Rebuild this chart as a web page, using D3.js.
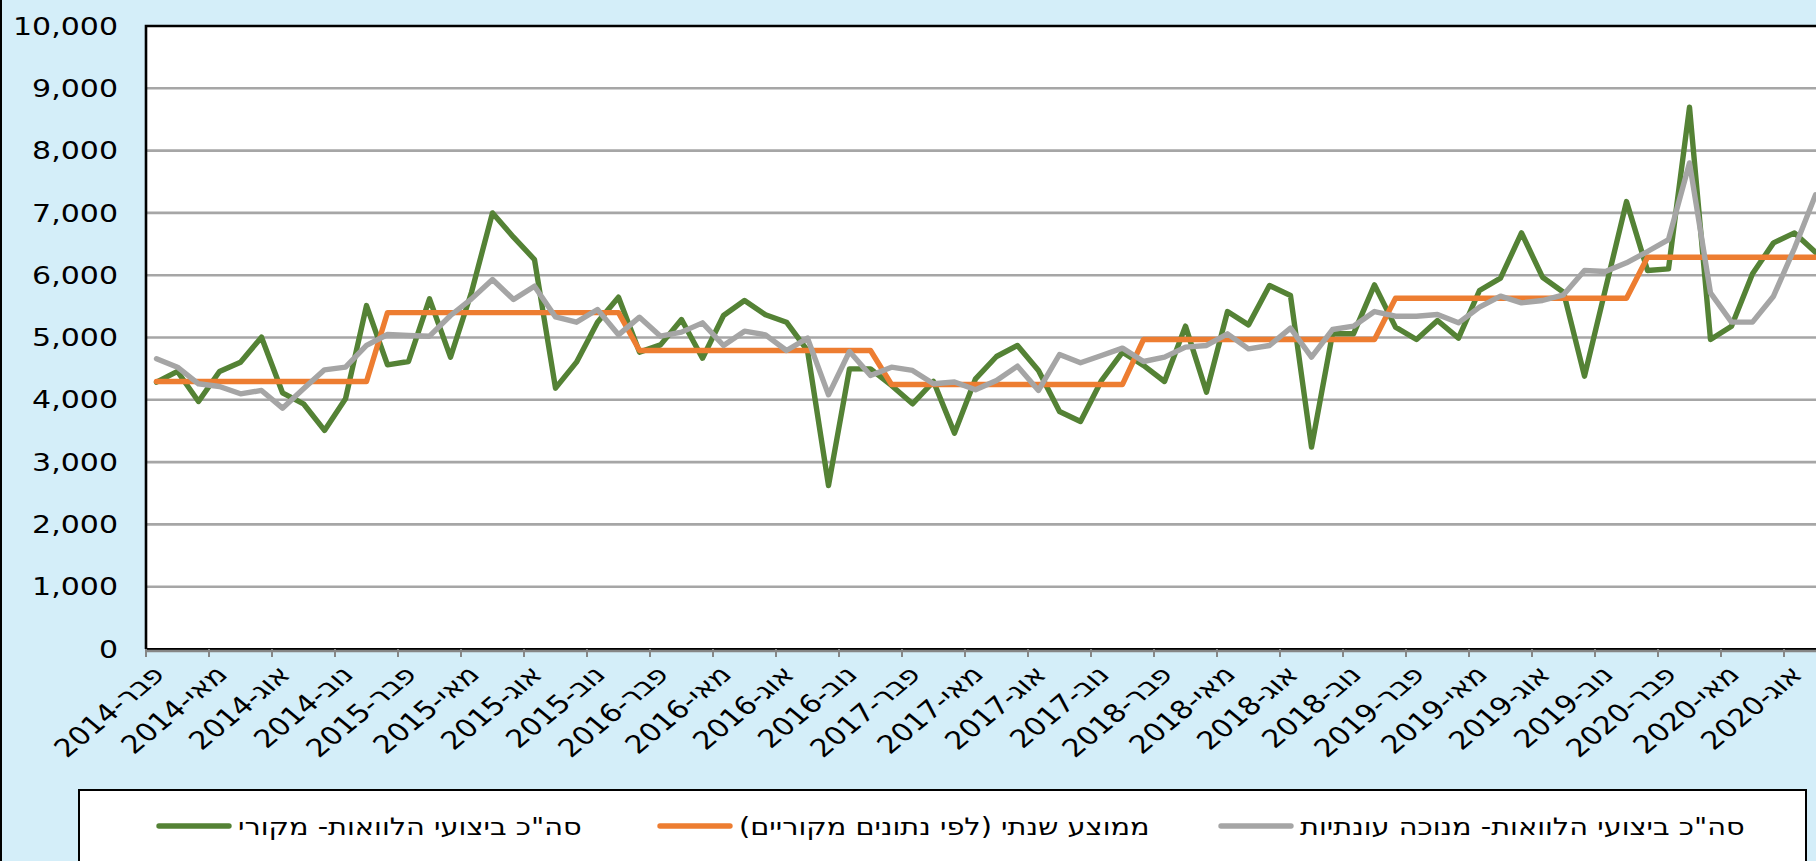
<!DOCTYPE html>
<html>
<head>
<meta charset="utf-8">
<script src="https://cdn.jsdelivr.net/npm/d3@7"></script>
<style>
html, body { margin: 0; padding: 0; overflow: hidden; background: #d4eef9; }
svg { display: block; }
text { font-family: "DejaVu Sans", Verdana, sans-serif; fill: #000; }
</style>
</head>
<body>
<svg id="chart"></svg>
<script>
// monthly categories, Feb 2014 onward
var monthNames = ['ינו', 'פבר', 'מרץ', 'אפר', 'מאי', 'יונ', 'יול', 'אוג', 'ספט', 'אוק', 'נוב', 'דצמ'];
var categories = [];
for (var k = 0; k < 80; k++) {
    var m = (1 + k) % 12, yr = 2014 + Math.floor((1 + k) / 12);
    categories.push({ label: monthNames[m] + '-' + yr, year: yr });
}

// סה"כ ביצועי הלוואות- מקורי
var original = [
    4283, 4455, 3973, 4455, 4604, 5005, 4112, 3936, 3508, 4016, 5513,
    4561, 4615, 5620, 4684, 5727, 7000, 6610, 6251, 4187, 4604, 5246, 5647,
    4765, 4882, 5289, 4668, 5353, 5594, 5364, 5246, 4791, 2625, 4497, 4497,
    4230, 3936, 4294, 3465, 4337, 4695, 4872, 4471, 3813, 3652, 4310, 4765,
    4551, 4294, 5182, 4123, 5417, 5203, 5834, 5674, 3240, 5059, 5059, 5845,
    5166, 4968, 5273, 4989, 5754, 5952, 6679, 5968, 5727, 4380, 5781, 7182,
    6075, 6102, 8695, 4968, 5182, 6022, 6519, 6679, 6369
];

// סה"כ ביצועי הלוואות- מנוכה עונתיות
var adjusted = [
    4658, 4524, 4257, 4214, 4096, 4150, 3866, 4176, 4481, 4524, 4872,
    5048, 5032, 5021, 5353, 5620, 5931, 5610, 5824, 5330, 5246, 5449, 5043,
    5326, 5021, 5086, 5235, 4872, 5102, 5043, 4791, 4989, 4080, 4775, 4390,
    4524, 4471, 4257, 4285, 4160, 4310, 4540, 4150, 4727, 4594, 4711, 4829,
    4615, 4684, 4845, 4872, 5059, 4818, 4872, 5150, 4684, 5128, 5182, 5417,
    5342, 5342, 5369, 5235, 5487, 5663, 5556, 5594, 5685, 6075, 6059, 6198,
    6380, 6572, 7802, 5717, 5246, 5246, 5663, 6433, 7289
];

// ממוצע שנתי (לפי נתונים מקוריים)
var avgYears = [2014, 2015, 2016, 2017, 2018, 2019, 2020];
var avgValues = [4294, 5400, 4791, 4246, 4968, 5631, 6289];

var yTicks = [0, 1000, 2000, 3000, 4000, 5000, 6000, 7000, 8000, 9000, 10000];

var seriesNames = ['סה"כ ביצועי הלוואות- מקורי', 'ממוצע שנתי (לפי נתונים מקוריים)', 'סה"כ ביצועי הלוואות- מנוכה עונתיות'];
var seriesColors = ['#548235', '#ed7d31', '#a5a5a5'];

var annual = categories.map(function (c) { return avgValues[avgYears.indexOf(c.year)]; });
var series = [original, annual, adjusted];

var W = 1816, H = 861;
var sx = 1.2; // the reference is stretched horizontally
var svg = d3.select('#chart').attr('width', W).attr('height', H);

svg.append('rect')
    .attr('x', 1).attr('y', -10)
    .attr('width', W + 20).attr('height', H + 20)
    .attr('fill', '#d4eef9')
    .attr('stroke', '#000')
    .attr('stroke-width', 2);

var plot = { left: 146, top: 26, right: 1826, bottom: 649 };

var x = d3.scaleBand().domain(d3.range(categories.length)).range([plot.left, plot.right]);
var y = d3.scaleLinear().domain([0, 10000]).range([plot.bottom, plot.top]);
function cx(i) { return x(i) + x.bandwidth() / 2; }

svg.append('rect')
    .attr('x', plot.left).attr('y', plot.top)
    .attr('width', plot.right - plot.left).attr('height', plot.bottom - plot.top)
    .attr('fill', '#fff');

svg.append('g').selectAll('line')
    .data(yTicks.slice(1, -1))
    .join('line')
    .attr('x1', plot.left).attr('x2', plot.right)
    .attr('y1', function (d) { return y(d); })
    .attr('y2', function (d) { return y(d); })
    .attr('stroke', '#a6a6a6')
    .attr('stroke-width', 2.6);

svg.append('g').selectAll('text')
    .data(yTicks)
    .join('text')
    .attr('transform', function (d) { return 'translate(118,' + y(d) + ') scale(' + sx + ',1)'; })
    .attr('text-anchor', 'end')
    .attr('dominant-baseline', 'central')
    .style('font-size', '25px')
    .text(d3.format(','));

var line = d3.line()
    .x(function (d, i) { return cx(i); })
    .y(function (d) { return y(d); });

svg.append('g').selectAll('path')
    .data(series)
    .join('path')
    .attr('d', line)
    .attr('fill', 'none')
    .attr('stroke', function (d, i) { return seriesColors[i]; })
    .attr('stroke-width', 5.4)
    .attr('stroke-linejoin', 'round')
    .attr('stroke-linecap', 'round');

// plot border, top and left
svg.append('path')
    .attr('d', 'M' + plot.left + ',' + plot.bottom + 'V' + plot.top + 'H' + (plot.right + 10))
    .attr('fill', 'none')
    .attr('stroke', '#000')
    .attr('stroke-width', 2.6);

// x axis
svg.append('line')
    .attr('x1', plot.left).attr('x2', plot.right + 10)
    .attr('y1', plot.bottom).attr('y2', plot.bottom)
    .attr('stroke', '#000').attr('stroke-width', 2);
svg.append('line')
    .attr('x1', plot.left).attr('x2', plot.right + 10)
    .attr('y1', plot.bottom + 2).attr('y2', plot.bottom + 2)
    .attr('stroke', '#868686').attr('stroke-width', 2.5);

var tickIdx = d3.range(0, categories.length + 1, 3);
svg.append('g').selectAll('line')
    .data(tickIdx)
    .join('line')
    .attr('x1', function (d) { return plot.left + d * x.bandwidth(); })
    .attr('x2', function (d) { return plot.left + d * x.bandwidth(); })
    .attr('y1', plot.bottom).attr('y2', plot.bottom + 8)
    .attr('stroke', '#868686').attr('stroke-width', 2);

svg.append('g').selectAll('text')
    .data(tickIdx.filter(function (d) { return d < categories.length; }))
    .join('text')
    .attr('transform', function (d) {
        return 'translate(' + (cx(d) + 2) + ',' + 670 + ') scale(' + sx + ',1) rotate(-45)';
    })
    .attr('direction', 'rtl')
    .attr('text-anchor', 'start')
    .attr('dominant-baseline', 'central')
    .style('font-size', '25px')
    .text(function (d) { return categories[d].label; });

// legend
var legend = svg.append('g');
legend.append('rect')
    .attr('x', 79).attr('y', 790)
    .attr('width', 1727).attr('height', 120)
    .attr('fill', '#fff')
    .attr('stroke', '#000')
    .attr('stroke-width', 2);

var legendX = [156, 657, 1218];
var item = legend.selectAll('g.item')
    .data(seriesNames)
    .join('g')
    .attr('class', 'item')
    .attr('transform', function (d, i) { return 'translate(' + legendX[i] + ',826)'; });
item.append('line')
    .attr('x1', 3).attr('x2', 73)
    .attr('stroke', function (d, i) { return seriesColors[i]; })
    .attr('stroke-width', 5.4)
    .attr('stroke-linecap', 'round');
item.append('text')
    .attr('transform', 'translate(82,0) scale(' + sx + ',1)')
    .attr('direction', 'rtl')
    .attr('text-anchor', 'end')
    .attr('dominant-baseline', 'central')
    .style('font-size', '24px')
    .text(function (d) { return d; });
</script>
</body>
</html>
